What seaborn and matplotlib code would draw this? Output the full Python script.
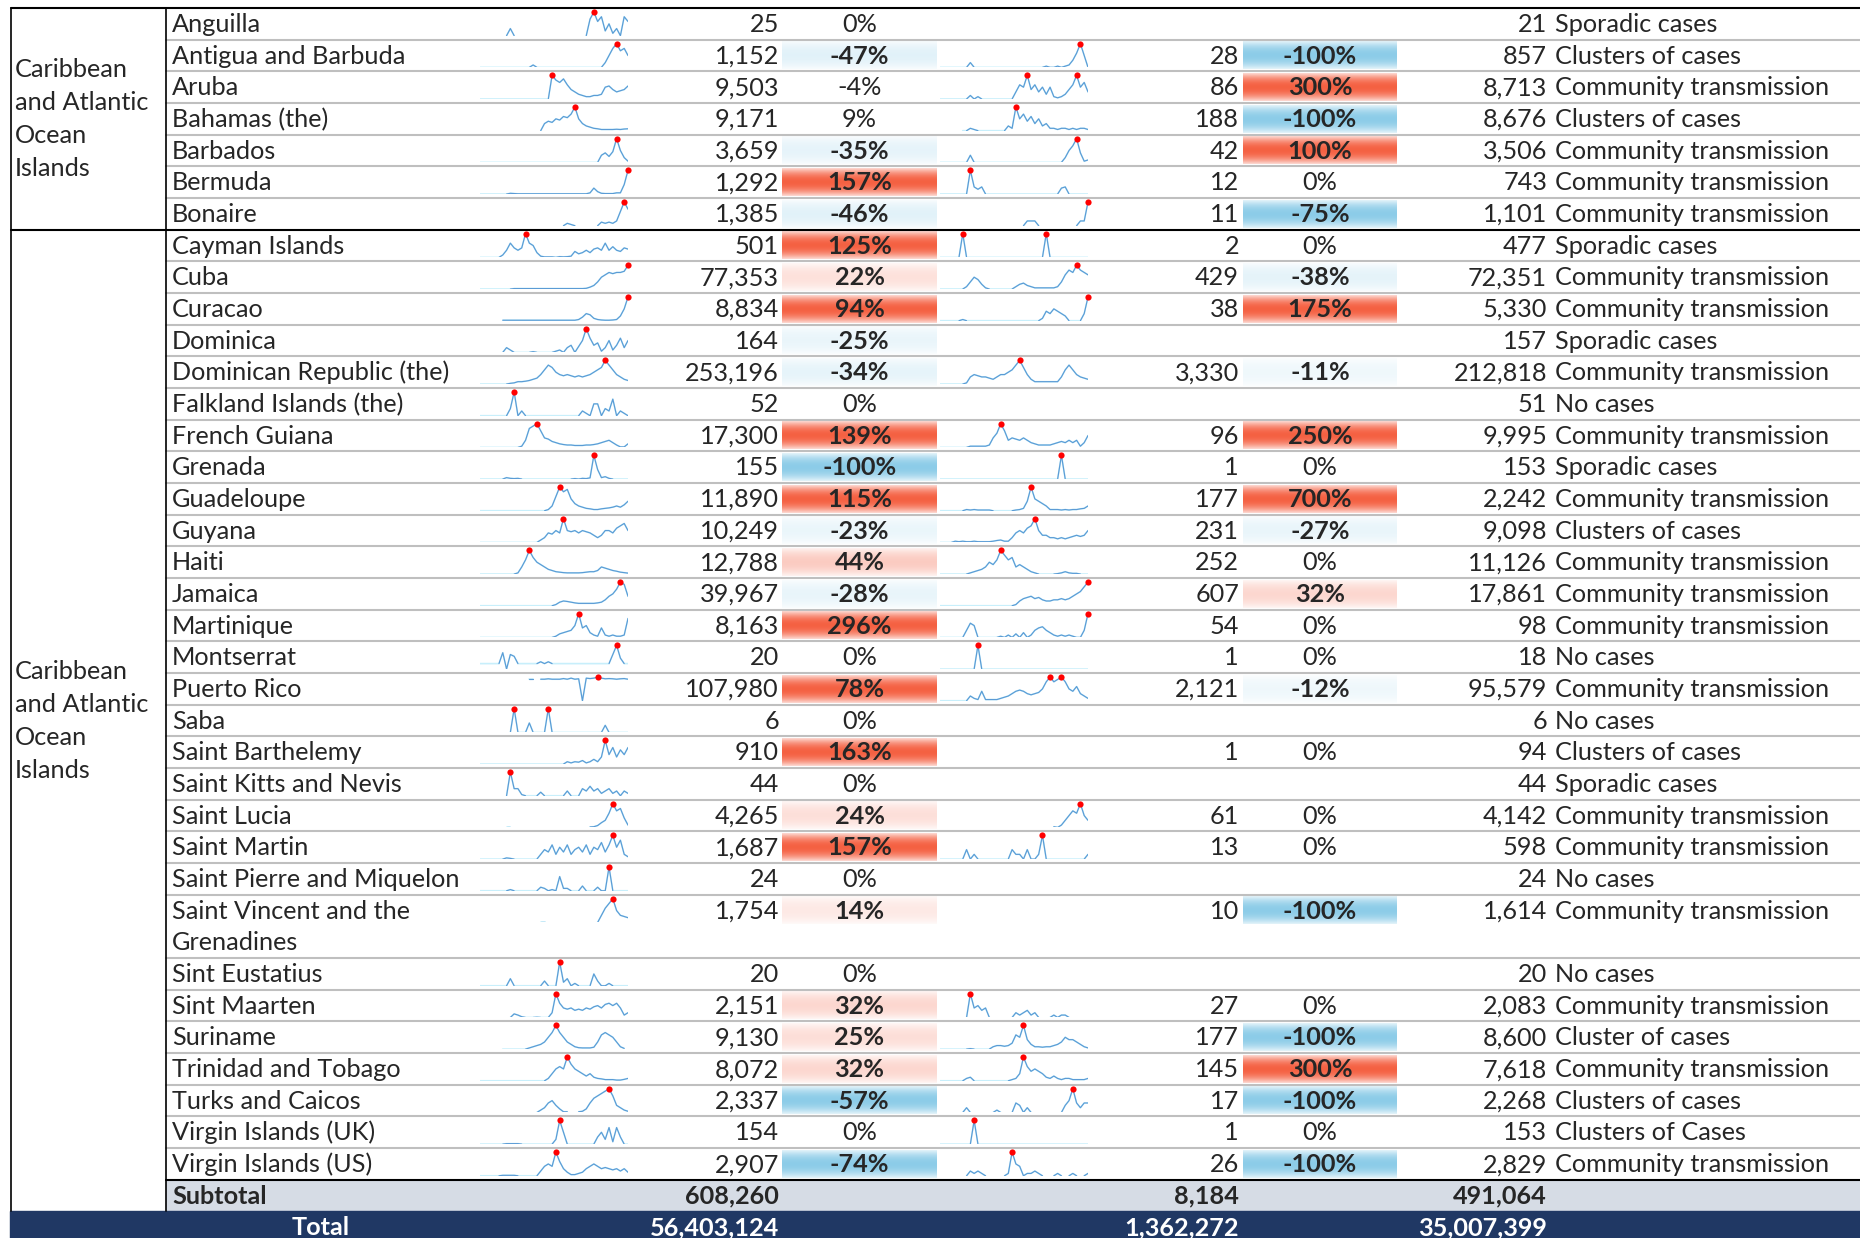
import numpy as np
import pandas as pd
import matplotlib.pyplot as plt
import seaborn as sns
from matplotlib.patches import Rectangle

n = np.nan

# ==========================================
# Table data
# ==========================================

region_label = ["Caribbean", "and Atlantic", "Ocean", "Islands"]
group_sizes = [7, 29]

countries = [
    "Anguilla", "Antigua and Barbuda", "Aruba", "Bahamas (the)", "Barbados", "Bermuda", "Bonaire",
    "Cayman Islands", "Cuba", "Curacao", "Dominica", "Dominican Republic (the)",
    "Falkland Islands (the)", "French Guiana", "Grenada", "Guadeloupe", "Guyana", "Haiti",
    "Jamaica", "Martinique", "Montserrat", "Puerto Rico", "Saba", "Saint Barthelemy",
    "Saint Kitts and Nevis", "Saint Lucia", "Saint Martin", "Saint Pierre and Miquelon",
    "Saint Vincent and the\nGrenadines", "Sint Eustatius", "Sint Maarten", "Suriname",
    "Trinidad and Tobago", "Turks and Caicos", "Virgin Islands (UK)", "Virgin Islands (US)",
]

cases = [25, 1152, 9503, 9171, 3659, 1292, 1385, 501, 77353, 8834,
         164, 253196, 52, 17300, 155, 11890, 10249, 12788, 39967, 8163,
         20, 107980, 6, 910, 44, 4265, 1687, 24, 1754, 20,
         2151, 9130, 8072, 2337, 154, 2907]

case_change = [0, -47, -4, 9, -35, 157, -46, 125, 22, 94,
               -25, -34, 0, 139, -100, 115, -23, 44, -28, 296,
               0, 78, 0, 163, 0, 24, 157, 0, 14, 0,
               32, 25, 32, -57, 0, -74]

deaths = [None, 28, 86, 188, 42, 12, 11, 2, 429, 38,
          None, 3330, None, 96, 1, 177, 231, 252, 607, 54,
          1, 2121, None, 1, None, 61, 13, None, 10, None,
          27, 177, 145, 17, 1, 26]

death_change = [None, -100, 300, -100, 100, 0, -75, 0, -38, 175,
                None, -11, None, 250, 0, 700, -27, 0, 32, 0,
                0, -12, None, 0, None, 0, 0, None, -100, None,
                0, -100, 300, -100, 0, -100]

cumulative = [21, 857, 8713, 8676, 3506, 743, 1101, 477, 72351, 5330,
              157, 212818, 51, 9995, 153, 2242, 9098, 11126, 17861, 98,
              18, 95579, 6, 94, 44, 4142, 598, 24, 1614, 20,
              2083, 8600, 7618, 2268, 153, 2829]

transmission = [
    "Sporadic cases", "Clusters of cases", "Community transmission", "Clusters of cases",
    "Community transmission", "Community transmission", "Community transmission",
    "Sporadic cases", "Community transmission", "Community transmission", "Sporadic cases",
    "Community transmission", "No cases", "Community transmission", "Sporadic cases",
    "Community transmission", "Clusters of cases", "Community transmission",
    "Community transmission", "Community transmission", "No cases", "Community transmission",
    "No cases", "Clusters of cases", "Sporadic cases", "Community transmission",
    "Community transmission", "No cases", "Community transmission", "No cases",
    "Community transmission", "Cluster of cases", "Community transmission",
    "Clusters of cases", "Clusters of Cases", "Community transmission",
]

subtotal = [608260, 8184, 491064]
total = [56403124, 1362272, 35007399]

# weekly trend sparklines (relative values)
cases_trend = [
    [n]*7 + [0, 3, 0] + [n]*18 + [0, 7, 10, 6, 8, 2, 5, 1, 3, 0, 8, 6],
    [0]*14 + [1] + [0]*18 + [2, 5, 8, 10, 7, 8, 5],
    [0]*19 + [10, 8, 7, 8.5, 6, 4, 3, 2, 1.5, 1, 1, 1.5, 1.5, 2, 5, 5.5, 4, 3, 3.5, 4, 5.5],
    [n]*7 + [0.5] + [n]*8 + [0, 3, 4, 3.5, 5, 4.5, 6, 5.5, 7, 10, 5, 3, 2, 1.5, 1, 0.8,
                             0.5, 0.5, 0.5, 0.5, 0.6, 0.5, 0.7, 0.8],
    [0]*32 + [3, 4, 2.5, 4.5, 10, 5, 2, 0.5],
    [0]*8 + [0.3, 0.2] + [0.1]*19 + [0.5, 2.5, 1, 0.3, 0.2, 0.2, 0.2, 0.5, 0.5, 4, 10],
    [n]*22 + [0, 1, 0.5, 0] + [n]*5 + [0, 1.5, 1, 1.5, 1, 2, 6, 10, 7],
    [0, 0, 0, 0, 0, 0, 1, 3, 6, 4, 3, 4, 10, 6, 5, 2, 0.5, 0.2, 0.2, 0.2,
     0, 0.3, 0.2, 0.3, 0.5, 2.5, 1.5, 2, 3, 2, 3.5, 4, 3, 6, 3, 4.5, 3, 2.5, 4, 3.5],
    [0]*9 + [0.2]*19 + [0.3, 0.8, 1.5, 3, 5, 6, 7, 6.5, 7, 7, 7.5, 10],
    [n]*6 + [0.2]*20 + [0.5, 1.5, 3, 2.5, 1, 0.5, 0.3, 0.2, 0.2, 0.3, 0.5, 2, 5, 10],
    [n]*6 + [0, 2, 1, 0, 0, 0, 0, 0, 0.3, 0, 0, 0, 0, 0, 0.5, 1, 0, 2, 3, 0,
             2.5, 5, 10, 6, 3, 4, 0.5, 2, 5, 1, 3, 6, 2, 5],
    [0, 0, 0, 0, 0, 0, 0, 0, 0.3, 0.5, 1, 1, 1.2, 1.5, 2, 2.5, 4, 6, 8, 7,
     5, 4, 3.5, 4, 3.5, 3, 3.5, 3, 3.5, 4, 5, 6, 7, 10, 8, 6, 4, 3, 2, 1.5],
    [0, 0, 0, 0, 0, 0, 0, 0, 3, 10, 0, 2, 0, 0, 0, 0, 0, 0, 0, 0,
     0, 0, 0, 0, 0, 0, 0, 2, 1, 0, 5, 5, 0, 3, 2, 7, 0, 2, 1, 0],
    [0]*11 + [0.5, 3, 8, 9, 10, 7, 4, 3.5, 2.5, 2, 1.5, 1.2, 1, 1, 0.8, 0.8, 0.8, 1, 1, 1.2,
              1.5, 2, 2.5, 3, 2, 1, 0.2, 0.2, 1.5],
    [0, 0, 0, 0, 0, 0, 0, 0.6, 0.3, 0.2, 0.3, 0, 0, 0, 0, 0, 0, 0, 0, 0,
     0, 0, 0, 0, 0, 0.2, 0, 0.3, 0.2, 0.5, 10, 4, 0.6, 1, 0.3, 0, 0, 0, 0, 0],
    [0]*18 + [0.5, 2, 6, 10, 8, 9, 5, 3, 2, 1.5, 1, 0.8, 0.5, 0.5, 0.8, 1, 1.2, 1.5, 2, 1.5, 2.5, 4],
    [0]*16 + [1, 2, 4, 3.5, 5, 4, 10, 5, 4.5, 5, 4, 5, 4.5, 4, 3, 2, 3, 5, 5, 4, 6, 7, 8, 5],
    [0]*10 + [0.5, 3, 6, 10, 7, 5, 4, 3, 2, 1.5, 1, 0.8, 0.6, 0.5, 0.5, 0.5, 0.5, 0.6, 0.8, 1,
              1, 1.5, 3, 2.5, 2, 1.5, 1.2, 0.8, 0.6, 0.4],
    [0]*20 + [0.5, 1.5, 2, 1.8, 1.5, 1.2, 1, 1, 1, 1, 1, 1.2, 1.5, 2.5, 4, 5, 7, 10, 9, 4],
    [0]*20 + [0.5, 1.5, 2, 2.5, 3, 5, 10, 4, 5, 2, 1, 0.5, 4, 1, 0.5, 1, 0.5, 0.5, 1, 8],
    [0, 0, 0, 0, 0, 0, 6, -3, 5, 4, 0, 0, 0, 0, 0, 0, 1, 0, 1, 0,
     0, 0, 0, 0, 0, 0, 0, 0, 0, 0, 0, 0, 0, 0, 0, 5, 10, 3, 0, 0],
    [n]*13 + [1, 1, n, 1, 1, 1.2, 1, 1, 1, 1.3, 1, 1.5, 1, 1.2, -9, 1.5, 1.3, 1.5, 2, 1.5,
              1.2, 1.3, 1.2, 1, 1.2, 1.3, 1],
    [n]*8 + [0, 10, 0, 0, 0, 4, 0, 0, 0, 0, 10, 0, 0, 0, 0, 0, 0, 0, 0, 0,
             0, 0, 0, 0, 0, 3, 0, 0, 0, 0, 0, 0],
    [0]*23 + [1, 0.5, 1, 0.8, 1.5, 0.5, 1, 2, 1, 3, 10, 4, 7, 3, 6, 4, 7],
    [n]*7 + [0, 10, 3, 3, 0.5, 0, 0, 0, 0, 1.5, 0, 0, 0, 0, 0, 0, 2, 0, 0, 0,
             3, 2, 4, 2, 3, 1, 2, 3, 1, 2, 0, 2, 1],
    [n]*7 + [0.2, 0.2] + [n]*20 + [0.2, 0.3, 0.8, 2, 3, 6, 10, 7, 8, 4, 1],
    [0]*7 + [0.5, 0.3] + [0]*7 + [2, 4, 3, 6, 2, 5, 3, 6, 2, 4, 5, 3, 6, 2, 5, 4, 7, 3, 6, 10,
                                  5, 8, 2, 1],
    [0, 0, 0, 0, 0, 0, 0, 0, 0.5, 0, 0, 0, 0, 0, 0, 0, 1.5, 1, 0, 0.5,
     0, 6, 1, 1, 0, 0, 0, 2, 0, 0, 0, 1.5, 0, 0, 10, 0, 0, 0, 0, 0],
    [n]*16 + [0.1, 0.1] + [n]*13 + [0, 3, 6, 8, 10, 5, 3, 2.5, 2],
    [0, 0, 0, 0, 0, 0, 0, 0, 3, 0, 0, 0, 0, 0, 0, 0, 0, 2, 0, 0,
     0, 10, 1.5, 3, 0, 1, 0, 0, 0, 0, 5, 2, 0, 0, 1, 0, 0, 0, 0, 0],
    [n]*8 + [0, 1.5, 1, 0.3, 0, 0, 0, 0.1, 0, 0, 0, 2, 10, 6, 4, 3.5, 4, 3, 3.5, 3,
             4, 3.5, 4.5, 5, 4, 5.5, 6, 5, 6, 4, 1, 2],
    [n]*6 + [0, 0, 0, 0, 0, 0, 0, 0.5, 1, 1.5, 2, 3, 5, 7, 10, 7, 5, 3, 2, 1,
             0.6, 0.5, 0.5, 0.5, 0.8, 3, 6, 7, 6, 5, 3, 1, 0.3, n],
    [0]*18 + [1, 3, 5, 6, 5, 10, 7, 5, 4, 3, 2, 3, 1.5, 1, 0.8, 0.5, 0.5, 0.5, 0.3, 0.3, 0.6, 1],
    [n]*15 + [0, 1, 2, 4, 5, 3, 1.5, 0.3, 0.3, n, n, 0.3, 0.5, 1.5, 4, 6, 7, 8, 9, 10,
              7, 3, 2, 1, 0.5],
    [0]*7 + [0.2]*4 + [0]*9 + [2, 10, 5, 0, 0, 0, 0, 0, 0, 0, 0, 3, 5, 2, 7, 1, 7, 3, 0, 0],
    [0, 0, 0, 0, 0, 0, 0.2, 0.2, 0.2, 0.2, 0, 0, 0, 0, 0, 0, 2, 4, 5, 4,
     10, 6, 3, 1.5, 0.5, 0.5, 1, 1.5, 3, 4, 5, 4, 3, 3.5, 3, 2.5, 3, 2, 3, 1.5],
]

deaths_trend = [
    None,
    [0]*8 + [2] + [0]*19 + [0.5, 0, 0, 0.5, 0, 0.5, 1, 3, 6, 10, 5, 0],
    [0, 0, 0, 0, 0, 0, 0, 0, 1.5, 0, 1, 0, 0, 0, 0, 0, 0, 0, 0, 0,
     3, 6, 5, 10, 4, 6, 3, 5, 2, 5, 1, 0.5, 1, 2, 4, 6, 10, 5, 7, 3],
    [n]*6 + [0, 0, 1, 0.5, 0, 0, 0, 0, 0, 0, 0, 0, 2, 1, 10, 5, 7, 4, 6, 3,
             5, 2, 3, 1, 1, 0.5, 1, 1, 0.5, 1, 0.5, 1, 1, 0.5],
    [0]*8 + [3] + [0]*24 + [2, 5, 7, 10, 4, 0.5, 1],
    [0]*8 + [10, 3, 2, 3] + [0]*20 + [2.5, 3] + [0]*6,
    [n]*22 + [0, 2, 2, 2, 0] + [n]*9 + [0, 2, 2, 10],
    [0]*6 + [10] + [0]*21 + [10] + [0]*11,
    [0, 0, 0, 0, 0, 0, 0, 1, 3, 5, 4, 2, 0.5, 0, 0, 0, 0, 0, 0, 0,
     1, 2, 2.5, 1.5, 1, 0.5, 0.5, 0.5, 0.5, 0.5, 0.5, 1, 3, 6, 8, 7, 10, 8, 7, 6],
    [0, 0, 0, 0, 0, 0, 0.5, 0, 0, 0, 0, 0, 0, 0, 0, 0, 0, 0, 0, 0,
     0, 0, 0, 0, 0, 0, 0, 1, 4, 3, 5, 4, 3, 2, 0, 0, 0, 0, 3, 10],
    None,
    [0, 0, 0, 0, 0, 0, 0, 0.5, 3, 4, 3.5, 3, 3, 2.5, 2, 3, 4, 4, 5, 6,
     8, 10, 7, 4, 2, 1, 1, 1, 1, 1, 1, 1, 3, 6, 8, 6, 4, 3, 2.5, 2],
    None,
    [0]*8 + [0.5]*5 + [1, 4, 6, 10, 7, 3, 4, 3.5, 3, 4, 3, 2, 1.5, 1, 1, 1, 1, 1.5, 2, 2.5,
                       2, 3, 2, 3, 0.5, 2, 5],
    [0]*32 + [10] + [0]*7,
    [0, 0, 0, 0, 0, 0, 0, 0.5, 0.3, 0.5, 0.3, 0.3, 0.3, 0.3, 0, 0, 0, 0, 0, 0,
     0.3, 0.5, 1, 4, 10, 5, 4, 3, 2, 0.5, 0.5, 0.5, 0.3, 0.5, 0.3, 0.5, 0.5, 0.8, 1, 2],
    [0, 0, 0, 0, 0.5, 0.3, 0.5, 0.3, 0.3, 0.5, 0.3, 0.3, 0.3, 0.3, 0.5, 0.8, 1, 0.5, 0.5, 2,
     4, 5, 4, 6, 7, 10, 5, 3, 3, 2, 2, 1.5, 2, 1.5, 2, 2.5, 3, 2.5, 3, 5],
    [0, 0, 0, 0, 0, 0, 0, 0, 0.5, 1, 1.5, 2, 3, 5, 4, 6, 10, 8, 6, 7,
     3, 4, 3, 2, 1, 0.5, 0, 0, 0, 0, 0, 0.2, 0.5, 1, 0.5, 0.3, 0.3, 0, 0, 0],
    [0]*20 + [0.5, 2, 3, 3.5, 4, 3, 3.5, 2.5, 2, 2, 2.5, 2.5, 3, 2.5, 3, 4, 5, 6, 8, 10],
    [0, 0, 0, 0, 0, 0, 0, 3, 6, 5, 0, 0, 0, 0, 0, 0, 0.5, 0, 1, 0,
     1.5, 0, 2, 0, 1, 3, 4, 4.5, 3, 2, 1, 0.5, 1, 0.5, 1, 0.5, 0, 0, 3, 10],
    [0]*10 + [10] + [0]*29,
    [0, 0, 0, 0, 0, 0, 0, 0, 2, 1, 0.5, 4, 0.5, 0.5, 0.5, 0.5, 1, 1.5, 2, 3,
     4, 4.5, 4, 3, 2.5, 3, 3.5, 5, 8, 10, 8, 9, 10, 8, 5, 4, 6, 3, 2, 1],
    None,
    None,
    None,
    [n]*27 + [0.3, n, n, 0.3, 0, 1, 3, 5, 7, 6, 10, 5, 3],
    [0, 0, 0, 0, 0, 0, 0, 4, 0, 2, 0, 0, 0, 0, 0, 0, 0, 0, 0, 4,
     2, 2, 0, 4, 0, 0, 2, 10, 0, 0, 0, 0, 0, 0, 0, 0, 0, 0, 0, 2],
    None,
    None,
    None,
    [n]*7 + [0, 10, 4, 5, 3, 4, 0] + [n]*5 + [0, 2, 1, 2, 3, 1, 2, 0] + [n]*2
    + [0, 1, 0, 1, 1, 0] + [n]*5,
    [0, 0, 0, 0, 0, 0, 0, 0, 0.2, 0, 0, 0, 0, 0, 1, 1.5, 1.5, 1.2, 1.5, 2.5,
     6, 5, 10, 4, 2, 1, 1, 0.8, 1, 1, 1.5, 2, 3, 5, 4, 4, 3, 2, 1, 0.5],
    [0, 0, 0, 0, 0, 0, 0, 1, 1.5, 0, 0, 0, 0, 0, 0, 0, 0, 0, 0, 0.5,
     1, 3, 10, 6, 4, 5, 4, 3, 1.5, 1, 2, 1, 0.5, 1, 1, 0.5, 0.5, 0.5, 0.5, 1],
    [n]*6 + [0, 2, 0] + [n]*5 + [0, 1, 0] + [n]*2 + [0, 4, 3, 0, 2, 0] + [n]*7
    + [0, 3, 5, 10, 4, 2, 4, 4],
    [0]*9 + [10] + [0]*30,
    [n]*7 + [0, 2, 1, 2, 1, 0] + [n]*4 + [0, 1, 10, 5, 4, 0, 1, 1, 2, 1, 0] + [n]*2
    + [0, 1, 0] + [n] + [0, 1, 0] + [n] + [0, 1],
]

# ==========================================
# Layout
# ==========================================

W, H = 1860, 1238
ROW = 31.67
TOP = 8
NPTS = 40

X_LEFT, X_REG, X_NAME = 11, 166, 172
SP1 = (480, 628)
X_CASES = 779
PCT1 = (782, 937)
SP2 = (940, 1088)
X_DEATHS = 1239
PCT2 = (1243, 1397)
X_CUM = 1547
X_TRANS = 1555

FS = 18.2
LINE = "#bfbfbf"
BLUE = "#5b9bd5"
CYAN = "#c8effb"

sns.set_style("white")
plt.rcParams["font.family"] = ["Lato", "DejaVu Sans"]

fig = plt.figure(figsize=(W / 100, H / 100), dpi=100)
ax = fig.add_axes([0, 0, 1, 1])

units = [2 if "\n" in c else 1 for c in countries]
tops = []
y = TOP
for u in units:
    tops.append(y)
    y += ROW * u
sub_top = y
tot_top = sub_top + ROW


def base(top):
    return top + 24


def pct_fill(x0, x1, top, v):
    if v > 0:
        rgb = np.array([0.96, 0.38, 0.26])
        s = 1.0 if v >= 75 else 0.05 + v / 160
    else:
        rgb = np.array([0.55, 0.80, 0.91])
        s = 1.0 if v <= -55 else 0.1 + (-v) / 300
    u = np.linspace(0, 1, 40)
    prof = s * (1 - 0.75 * np.abs(2 * u - 1) ** 2)
    col = 1 - prof[:, None] * (1 - rgb[None, :])
    ax.imshow(col[:, None, :], extent=(x0, x1, top + ROW - 2, top + 2),
              aspect="auto", interpolation="bilinear", zorder=1)


def draw_pct(x0, x1, top, v):
    if v is None:
        return
    strong = abs(v) >= 10
    if strong:
        pct_fill(x0, x1, top, v)
    ax.text((x0 + x1) / 2, base(top), f"{v}%", ha="center", va="baseline",
            fontsize=FS, fontweight="bold" if strong else "normal", zorder=3)


def segments(x, y, mask):
    ids = np.cumsum(~mask)
    return pd.DataFrame({"x": x[mask], "y": y[mask], "seg": ids[mask]})


def spark(vals, x0, x1, top):
    if vals is None:
        return
    y = np.array(vals, dtype=float)
    if len(y) < NPTS:
        y = np.concatenate([np.full(NPTS - len(y), np.nan), y])
    y = y[-NPTS:]
    x = np.arange(NPTS)

    sax = fig.add_axes([x0 / W, 1 - (top + ROW - 4) / H, (x1 - x0) / W, (ROW - 8) / H])
    sax.patch.set_alpha(0)

    valid = ~np.isnan(y)
    nz = valid & (y != 0)
    active = nz.copy()
    active[1:] |= nz[:-1]
    active[:-1] |= nz[1:]
    active &= valid

    sns.lineplot(data=segments(x, y, valid), x="x", y="y", units="seg", estimator=None,
                 color=CYAN, lw=1.2, ax=sax, legend=False)
    if active.any():
        sns.lineplot(data=segments(x, y, active), x="x", y="y", units="seg", estimator=None,
                     color=BLUE, lw=0.85, ax=sax, legend=False)
    ymax = np.nanmax(y)
    hi = np.where(y == ymax)[0]
    sns.scatterplot(x=hi, y=y[hi], color="red", s=20, linewidth=0, ax=sax,
                    clip_on=False, zorder=5, legend=False)
    sax.set_xlim(0, NPTS - 1)
    sax.set_ylim(min(0, np.nanmin(y)), ymax)
    sax.axis("off")


# ==========================================
# Rows
# ==========================================

for i, name in enumerate(countries):
    top = tops[i]
    for k, part in enumerate(name.split("\n")):
        ax.text(X_NAME, base(top + k * ROW), part, ha="left", va="baseline", fontsize=FS)

    ax.text(X_CASES, base(top), f"{cases[i]:,}", ha="right", va="baseline", fontsize=FS)
    draw_pct(*PCT1, top, case_change[i])
    if deaths[i] is not None:
        ax.text(X_DEATHS, base(top), f"{deaths[i]:,}", ha="right", va="baseline", fontsize=FS)
    draw_pct(*PCT2, top, death_change[i])
    ax.text(X_CUM, base(top), f"{cumulative[i]:,}", ha="right", va="baseline", fontsize=FS)
    ax.text(X_TRANS, base(top), transmission[i], ha="left", va="baseline", fontsize=FS)

    spark(cases_trend[i], *SP1, top)
    spark(deaths_trend[i], *SP2, top)

    # row separator
    if i > 0 and i != group_sizes[0]:
        ax.plot([X_REG, W], [top, top], color=LINE, lw=1.5, zorder=2)

# region labels
g_bounds = [(TOP, tops[group_sizes[0]]), (tops[group_sizes[0]], tot_top)]
for y0, y1 in g_bounds:
    mid = (y0 + y1) / 2
    for k, part in enumerate(region_label):
        yc = mid + (k - 1.5) * 33
        ax.text(15, yc + 8, part, ha="left", va="baseline", fontsize=FS)

# subtotal + total rows
ax.add_patch(Rectangle((X_REG, sub_top), W - X_REG, ROW, color="#d6dce5", zorder=0))
ax.add_patch(Rectangle((X_LEFT - 1, tot_top), W, H - tot_top + 5, color="#203864", zorder=0))

ax.text(X_NAME, base(sub_top), "Subtotal", ha="left", va="baseline", fontsize=FS, fontweight="bold")
for xr, v in zip([X_CASES, X_DEATHS, X_CUM], subtotal):
    ax.text(xr, base(sub_top), f"{v:,}", ha="right", va="baseline", fontsize=FS, fontweight="bold")

ax.text(321, base(tot_top), "Total", ha="center", va="baseline", fontsize=FS,
        fontweight="bold", color="white")
for xr, v in zip([X_CASES, X_DEATHS, X_CUM], total):
    ax.text(xr, base(tot_top), f"{v:,}", ha="right", va="baseline", fontsize=FS,
            fontweight="bold", color="white")

# borders
ax.plot([X_LEFT, W], [TOP, TOP], color="black", lw=1.5, zorder=4)
ax.plot([X_LEFT, W], [tops[group_sizes[0]]] * 2, color="black", lw=1.5, zorder=4)
ax.plot([X_REG, W], [sub_top, sub_top], color="black", lw=1.5, zorder=4)
ax.plot([X_LEFT, X_LEFT], [TOP, tot_top], color="black", lw=1.2, zorder=4)
ax.plot([X_REG, X_REG], [TOP, tot_top], color="black", lw=1.2, zorder=4)

ax.set_xlim(0, W)
ax.set_ylim(H, 0)
ax.axis("off")

fig.savefig("out.png", dpi=100, facecolor="white")
